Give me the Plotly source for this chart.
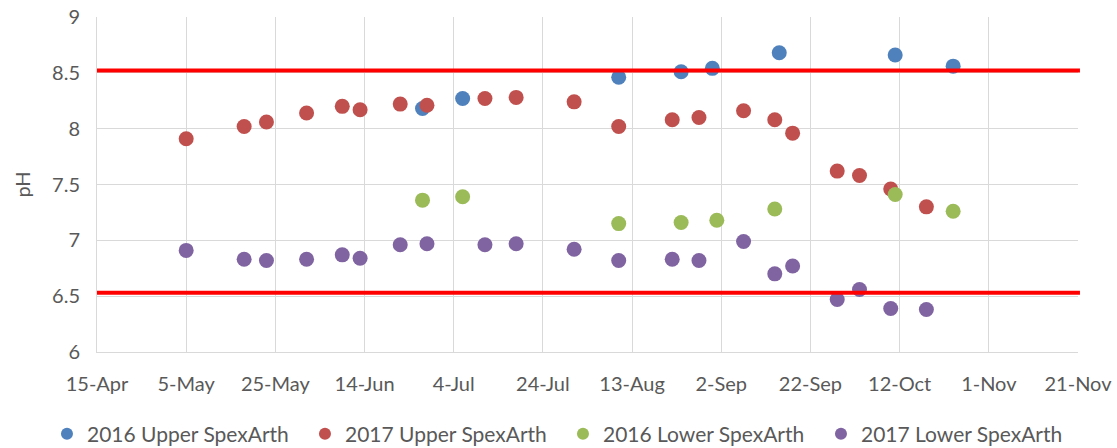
import plotly.graph_objects as go

# 2016 Upper SpexArth
u16_dates = ["2017-06-27", "2017-07-06", "2017-08-10", "2017-08-24", "2017-08-31",
             "2017-09-15", "2017-10-11", "2017-10-24"]
u16_ph = [8.18, 8.27, 8.46, 8.51, 8.54, 8.68, 8.66, 8.56]

# 2017 Upper SpexArth
u17_dates = ["2017-05-05", "2017-05-18", "2017-05-23", "2017-06-01", "2017-06-09",
             "2017-06-13", "2017-06-22", "2017-06-28", "2017-07-11", "2017-07-18",
             "2017-07-31", "2017-08-10", "2017-08-22", "2017-08-28", "2017-09-07",
             "2017-09-14", "2017-09-18", "2017-09-28", "2017-10-03", "2017-10-10",
             "2017-10-18"]
u17_ph = [7.91, 8.02, 8.06, 8.14, 8.20, 8.17, 8.22, 8.21, 8.27, 8.28,
          8.24, 8.02, 8.08, 8.10, 8.16, 8.08, 7.96, 7.62, 7.58, 7.46, 7.30]

# 2016 Lower SpexArth
l16_dates = ["2017-06-27", "2017-07-06", "2017-08-10", "2017-08-24", "2017-09-01",
             "2017-09-14", "2017-10-11", "2017-10-24"]
l16_ph = [7.36, 7.39, 7.15, 7.16, 7.18, 7.28, 7.41, 7.26]

# 2017 Lower SpexArth
l17_dates = u17_dates
l17_ph = [6.91, 6.83, 6.82, 6.83, 6.87, 6.84, 6.96, 6.97, 6.96, 6.97,
          6.92, 6.82, 6.83, 6.82, 6.99, 6.70, 6.77, 6.47, 6.56, 6.39, 6.38]

series_names = ["2016 Upper SpexArth", "2017 Upper SpexArth",
                "2016 Lower SpexArth", "2017 Lower SpexArth"]
colors = ["#4F81BD", "#C0504D", "#9BBB59", "#8064A2"]

thresholds = [8.52, 6.53]

x_ticks = ["2017-04-15", "2017-05-05", "2017-05-25", "2017-06-14", "2017-07-04",
           "2017-07-24", "2017-08-13", "2017-09-02", "2017-09-22", "2017-10-12",
           "2017-11-01", "2017-11-21"]
x_ticklabels = ["15-Apr", "5-May", "25-May", "14-Jun", "4-Jul", "24-Jul", "13-Aug",
                "2-Sep", "22-Sep", "12-Oct", "1-Nov", "21-Nov"]
y_ticks = [6, 6.5, 7, 7.5, 8, 8.5, 9]
y_ticklabels = ["6", "6.5", "7", "7.5", "8", "8.5", "9"]

FONT = "Lato, 'Open Sans', sans-serif"
TXT = "#595959"

fig = go.Figure()
data = [(u16_dates, u16_ph), (u17_dates, u17_ph), (l16_dates, l16_ph), (l17_dates, l17_ph)]
for (xs, ys), name, c in zip(data, series_names, colors):
    fig.add_trace(go.Scatter(x=xs, y=ys, mode="markers", name=name,
                             marker=dict(color=c, size=15, line=dict(width=0))))

for t in thresholds:
    fig.add_shape(type="line", xref="paper", x0=0, x1=1.002, yref="y", y0=t, y1=t,
                  line=dict(color="#FF0000", width=4), layer="above")

fig.update_layout(
    width=1117, height=448,
    margin=dict(l=97, r=39, t=17, b=96, autoexpand=False),
    paper_bgcolor="white", plot_bgcolor="white",
    font=dict(family=FONT, color=TXT, size=20),
    showlegend=True,
    legend=dict(orientation="h", x=-0.051, xanchor="left", y=-0.245, yanchor="middle",
                font=dict(size=21, color=TXT), itemsizing="constant",
                entrywidth=213, entrywidthmode="pixels",
                tracegroupgap=0, itemwidth=30),
    xaxis=dict(type="date", range=[x_ticks[0], x_ticks[-1]],
               tickmode="array", tickvals=x_ticks, ticktext=x_ticklabels,
               showgrid=True, gridcolor="#D9D9D9", gridwidth=1,
               showline=True, linecolor="#D9D9D9", linewidth=1, mirror=False,
               ticks="", tickfont=dict(size=20, color=TXT), zeroline=False,
               ticklabelstandoff=14, automargin=False, ticklabeloverflow="allow"),
    yaxis=dict(range=[6, 9], tickmode="array", tickvals=y_ticks, ticktext=y_ticklabels,
               showgrid=True, gridcolor="#D9D9D9", gridwidth=1,
               showline=True, linecolor="#D9D9D9", linewidth=1,
               ticks="", tickfont=dict(size=20, color=TXT), zeroline=False,
               ticklabelstandoff=12, automargin=False, ticklabeloverflow="allow",
               title=dict(text="pH", font=dict(size=20, color=TXT), standoff=16)),
)

fig.write_html("out.html", config={"displayModeBar": False},
               post_script="document.body.style.margin='0';document.body.style.overflow='hidden';")
